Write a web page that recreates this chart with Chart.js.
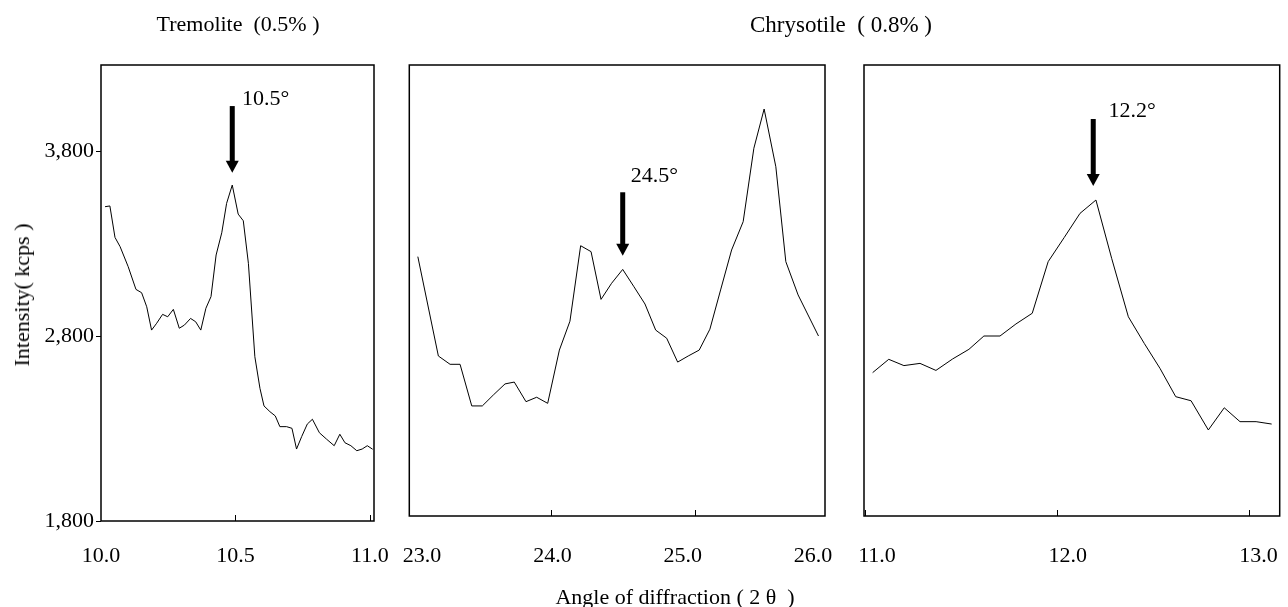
<!DOCTYPE html>
<html lang="en">
<head>
<meta charset="UTF-8">
<title>XRD peaks - Tremolite / Chrysotile</title>
<script src="https://cdn.jsdelivr.net/npm/chart.js"></script>
<style>
    body { margin: 0; background: #fff; color: #000; font-family: "Liberation Serif", "Times New Roman", serif; }
    #wrap { position: relative; width: 1288px; height: 607px; overflow: hidden; }
    canvas { position: absolute; top: 0; }
    .txt { position: absolute; white-space: pre; font-size: 22px; line-height: 1; transform: translate(-50%, -50%); }
</style>
</head>
<body>
<div id="wrap">
    <canvas id="tremolite" width="420" height="580" style="left:0px"></canvas>
    <canvas id="chrys245" width="470" height="580" style="left:380px"></canvas>
    <canvas id="chrys122" width="448" height="580" style="left:840px"></canvas>

    <div class="txt" style="left:238px; top:24px;">Tremolite  (0.5% )</div>
    <div class="txt" style="left:841px; top:24px; font-size:23px;">Chrysotile  ( 0.8% )</div>
    <div class="txt" style="left:22px; top:295px; transform:translate(-50%,-50%) rotate(-90deg);">Intensity( kcps )</div>
    <div class="txt" style="left:675px; top:597px;">Angle of diffraction ( 2 θ  )</div>
</div>

<script>
// ---- data ----
// Tremolite (0.5%), 2θ 10-11
const tremX = [10.015, 10.033, 10.052, 10.071, 10.101, 10.130, 10.151, 10.170, 10.188, 10.207,
               10.229, 10.248, 10.269, 10.291, 10.310, 10.333, 10.352, 10.371, 10.390, 10.409,
               10.428, 10.449, 10.467, 10.488, 10.510, 10.529, 10.548, 10.572, 10.591, 10.606,
               10.628, 10.648, 10.665, 10.690, 10.710, 10.727, 10.746, 10.767, 10.786, 10.812,
               10.839, 10.867, 10.888, 10.907, 10.929, 10.951, 10.971, 10.990, 11.010];
const tremY = [3499, 3503, 3333, 3283, 3175, 3052, 3034, 2958, 2832, 2869,
               2917, 2904, 2944, 2842, 2859, 2895, 2877, 2832, 2950, 3013,
               3238, 3358, 3517, 3616, 3459, 3423, 3193, 2688, 2517, 2422,
               2391, 2368, 2310, 2310, 2301, 2189, 2256, 2324, 2350, 2277,
               2242, 2207, 2269, 2223, 2207, 2180, 2189, 2207, 2188];

// Chrysotile (0.8%), 2θ 23-26
const chrysAX = [23.081, 23.223, 23.304, 23.373, 23.454, 23.527, 23.603, 23.684, 23.748, 23.829,
                 23.903, 23.979, 24.060, 24.133, 24.207, 24.279, 24.348, 24.421, 24.498, 24.576,
                 24.652, 24.726, 24.802, 24.878, 24.951, 25.027, 25.101, 25.175, 25.251, 25.331,
                 25.405, 25.476, 25.557, 25.626, 25.711, 25.852];
const chrysAY = [3229, 2692, 2647, 2647, 2422, 2422, 2481, 2541, 2551, 2445,
                 2469, 2436, 2724, 2880, 3288, 3256, 2998, 3085, 3160, 3066,
                 2973, 2832, 2788, 2659, 2692, 2724, 2837, 3049, 3265, 3418,
                 3815, 4027, 3715, 3202, 3022, 2800];

// Chrysotile (0.8%), 2θ 11-13
const chrysBX = [11.040, 11.124, 11.203, 11.287, 11.370, 11.457, 11.542, 11.620, 11.704, 11.787,
                 11.872, 11.955, 12.039, 12.121, 12.204, 12.286, 12.373, 12.456, 12.538, 12.620,
                 12.700, 12.790, 12.873, 12.955, 13.039, 13.120];
const chrysBY = [2602, 2674, 2640, 2652, 2614, 2676, 2728, 2800, 2800, 2865,
                 2923, 3202, 3333, 3463, 3535, 3220, 2904, 2760, 2625, 2472,
                 2450, 2292, 2412, 2337, 2337, 2324];

// tick labels
const yTicks = [1800, 2800, 3800];
const tremTicks = [10.0, 10.5, 11.0];
const chrysATicks = [23.0, 24.0, 25.0, 26.0];
const chrysBTicks = [11.0, 12.0, 13.0];
// small inner tick marks on the frame
const tremMarks = [10.5, 11.0];
const chrysAMarks = [24.0, 25.0];
const chrysBMarks = [11.0, 12.0, 13.0];

// peak arrows: [x, top of arrow, tip of arrow], label at [x, baseline]
const peakText = ['10.5°', '24.5°', '12.2°'];
const arrowX = [10.488, 24.498, 12.19];
const arrowTop = [4043, 3577, 3973];
const arrowTip = [3683, 3234, 3611];
const peakLabelX = [10.524, 24.553, 12.270];
const peakLabelY = [4049, 3634, 3985];

Chart.defaults.font.family = '"Liberation Serif", "Times New Roman", serif';
Chart.defaults.font.size = 22;
Chart.defaults.color = '#000';

// frame, inner tick marks and the peak arrow
const framePlugin = {
    id: 'frame',
    afterDatasetsDraw(chart, args, o) {
        const ctx = chart.ctx, a = chart.chartArea;
        const sx = chart.scales.x, sy = chart.scales.y;
        ctx.save();
        ctx.strokeStyle = '#000';
        ctx.lineWidth = 1.5;
        ctx.strokeRect(a.left, a.top, a.right - a.left, a.bottom - a.top);

        ctx.lineWidth = 1;
        ctx.beginPath();
        o.marks.forEach(v => {
            const px = Math.round(sx.getPixelForValue(v)) + 0.5;
            ctx.moveTo(px, a.bottom);
            ctx.lineTo(px, a.bottom - 6);
        });
        ctx.stroke();

        const i = o.peak;
        const ax = sx.getPixelForValue(arrowX[i]);
        const top = sy.getPixelForValue(arrowTop[i]);
        const tip = sy.getPixelForValue(arrowTip[i]);
        const head = 12;
        ctx.fillStyle = '#000';
        ctx.fillRect(ax - 2.5, top, 5, tip - head - top + 1);
        ctx.beginPath();
        ctx.moveTo(ax - 6.5, tip - head);
        ctx.lineTo(ax + 6.5, tip - head);
        ctx.lineTo(ax, tip);
        ctx.closePath();
        ctx.fill();

        ctx.font = '22px "Liberation Serif", "Times New Roman", serif';
        ctx.textAlign = 'left';
        ctx.textBaseline = 'alphabetic';
        ctx.fillText(peakText[i], sx.getPixelForValue(peakLabelX[i]), sy.getPixelForValue(peakLabelY[i]));
        ctx.restore();
    }
};

function makePanel(id, p) {
    const yAxis = p.showY ? {
        min: p.yMin, max: p.yMax,
        afterBuildTicks: s => { s.ticks = yTicks.map(v => ({ value: v })); },
        afterFit: s => { s.width = 70; },
        grid: { display: true, drawOnChartArea: false, drawTicks: true, tickLength: 5, color: '#000' },
        border: { display: false },
        ticks: { padding: 2, callback: v => v.toLocaleString('en-US') }
    } : { display: false, min: p.yMin, max: p.yMax };

    return new Chart(document.getElementById(id), {
        type: 'line',
        data: {
            datasets: [{
                data: p.xs.map((x, k) => ({ x: x, y: p.ys[k] })),
                xAxisID: 'x', yAxisID: 'y',
                borderColor: '#000', borderWidth: 1,
                pointRadius: 0, tension: 0, fill: false
            }]
        },
        options: {
            responsive: false,
            animation: false,
            events: [],
            layout: { padding: p.pad },
            scales: {
                x: { type: 'linear', display: false, min: p.xMin, max: p.xMax },
                xl: {
                    type: 'linear', axis: 'x', position: 'bottom',
                    min: p.lMin, max: p.lMax,
                    afterBuildTicks: s => { s.ticks = p.labels.map(v => ({ value: v })); },
                    afterFit: s => { s.height = 50; },
                    grid: { display: false, drawTicks: true, tickLength: p.labelGap },
                    border: { display: false },
                    ticks: { padding: 0, maxRotation: 0, autoSkip: false, callback: v => Number(v).toFixed(1) }
                },
                y: yAxis
            },
            plugins: {
                legend: { display: false },
                tooltip: { enabled: false },
                frame: { marks: p.marks, peak: p.peak }
            }
        },
        plugins: [framePlugin]
    });
}

makePanel('tremolite', {
    xs: tremX, ys: tremY, showY: true,
    yMin: 1800, yMax: 4265,
    xMin: 10.0, xMax: 11.015, lMin: 10.0, lMax: 11.015,
    labels: tremTicks, marks: tremMarks, peak: 0, labelGap: 22,
    pad: { left: 31, top: 65, right: 46, bottom: 9 }
});

makePanel('chrys245', {
    xs: chrysAX, ys: chrysAY, showY: false,
    yMin: 1827, yMax: 4265,
    xMin: 23.022, xMax: 25.897, lMin: 22.902, lMax: 26.092,
    labels: chrysATicks, marks: chrysAMarks, peak: 1, labelGap: 27,
    pad: { left: 29.3, top: 65, right: 25, bottom: 14 }
});

makePanel('chrys122', {
    xs: chrysBX, ys: chrysBY, showY: false,
    yMin: 1827, yMax: 4265,
    xMin: 10.995, xMax: 13.162, lMin: 10.932, lMax: 13.111,
    labels: chrysBTicks, marks: chrysBMarks, peak: 2, labelGap: 27,
    pad: { left: 24, top: 65, right: 8.3, bottom: 14 }
});
</script>
</body>
</html>
